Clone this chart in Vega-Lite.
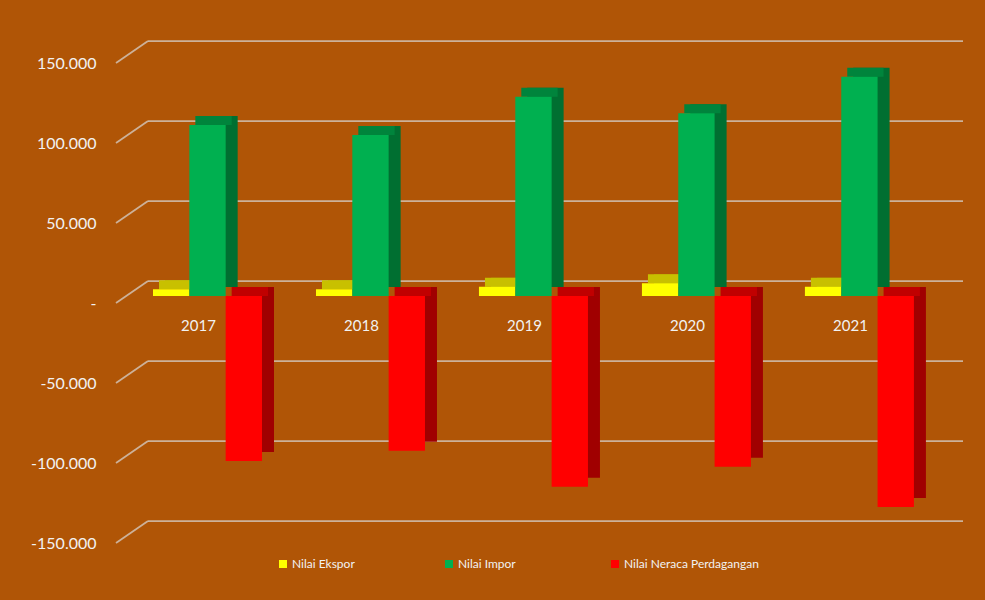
{
  "$schema": "https://vega.github.io/schema/vega-lite/v6.json",
  "autosize": "none",
  "width": 847,
  "height": 480,
  "padding": {"left": 116, "top": 56, "right": 22, "bottom": 64},
  "background": "#B05506",
  "config": {
    "view": {"stroke": null},
    "font": "Lato",
    "axisY": {"grid": false, "ticks": false, "domain": false, "labelFontSize": 16, "labelColor": "#F2F2F2", "labelPadding": 20, "labelFont": "Lato"}
  },
  "datasets": {
    "trade": [
      {"year": "2017", "series": "Nilai Ekspor", "value": 4200},
      {"year": "2018", "series": "Nilai Ekspor", "value": 4200},
      {"year": "2019", "series": "Nilai Ekspor", "value": 5800},
      {"year": "2020", "series": "Nilai Ekspor", "value": 7900},
      {"year": "2021", "series": "Nilai Ekspor", "value": 5800},
      {"year": "2017", "series": "Nilai Impor", "value": 106900},
      {"year": "2018", "series": "Nilai Impor", "value": 100700},
      {"year": "2019", "series": "Nilai Impor", "value": 124600},
      {"year": "2020", "series": "Nilai Impor", "value": 114200},
      {"year": "2021", "series": "Nilai Impor", "value": 137100},
      {"year": "2017", "series": "Nilai Neraca Perdagangan", "value": -103100},
      {"year": "2018", "series": "Nilai Neraca Perdagangan", "value": -96700},
      {"year": "2019", "series": "Nilai Neraca Perdagangan", "value": -119200},
      {"year": "2020", "series": "Nilai Neraca Perdagangan", "value": -106700},
      {"year": "2021", "series": "Nilai Neraca Perdagangan", "value": -131900}
    ],
    "grid": [
      {"v": -150000}, {"v": -100000}, {"v": -50000}, {"v": 0}, {"v": 50000}, {"v": 100000}, {"v": 150000}
    ]
  },
  "resolve": {"scale": {"x": "independent"}},
  "layer": [
    {
      "data": {"name": "grid"},
      "mark": {"type": "rule", "color": "#D9D9D9", "strokeWidth": 1.75, "opacity": 0.7, "xOffset": 32, "yOffset": -15},
      "encoding": {
        "x": {"datum": 0, "type": "quantitative", "scale": {"domain": [0, 1], "nice": false}, "axis": null},
        "x2": {"datum": 1},
        "y": {
          "field": "v", "type": "quantitative", "title": null,
          "scale": {"domain": [-150000, 150000], "nice": false},
          "axis": {
            "values": [-150000, -100000, -50000, 0, 50000, 100000, 150000],
            "labelOffset": 7,
            "labelExpr": "datum.value == 0 ? '-' : (datum.value < 0 ? '-' : '') + format(abs(datum.value) / 1000, 'd') + '.000'"
          }
        }
      }
    },
    {
      "data": {"name": "grid"},
      "mark": {"type": "rule", "color": "#D9D9D9", "strokeWidth": 1.75, "opacity": 0.7, "x2Offset": 32, "yOffset": 7, "y2Offset": -15},
      "encoding": {
        "x": {"datum": 0, "type": "quantitative", "scale": {"domain": [0, 1], "nice": false}, "axis": null},
        "x2": {"datum": 0},
        "y": {"field": "v", "type": "quantitative", "title": null},
        "y2": {"field": "v"}
      }
    },
    {
      "data": {"name": "trade"},
      "resolve": {"scale": {"color": "independent", "xOffset": "independent"}},
      "encoding": {
        "x": {"field": "year", "type": "nominal", "scale": {"paddingInner": 0.331, "paddingOuter": 0.264, "align": 0.43}, "axis": null}
      },
      "layer": [
        {
          "mark": {"type": "bar", "yOffset": -9, "y2Offset": -9},
          "encoding": {
            "xOffset": {"field": "series", "type": "nominal", "scale": {"domain": ["Nilai Ekspor", "Nilai Impor", "Nilai Neraca Perdagangan"], "range": [12, 121], "paddingInner": 0, "paddingOuter": 0}},
            "y": {"field": "value", "type": "quantitative", "title": null},
            "color": {"field": "series", "type": "nominal", "legend": null, "scale": {"domain": ["Nilai Ekspor", "Nilai Impor", "Nilai Neraca Perdagangan"], "range": ["#A8A000", "#006F31", "#A00000"]}}
          }
        },
        {
          "transform": [{"filter": "datum.series != 'Nilai Neraca Perdagangan'"}],
          "mark": {"type": "bar", "y2Offset": -9},
          "encoding": {
            "xOffset": {"field": "series", "type": "nominal", "scale": {"domain": ["Nilai Ekspor", "Nilai Impor", "Nilai Neraca Perdagangan"], "range": [6, 115], "paddingInner": 0, "paddingOuter": 0}},
            "y": {"field": "value", "type": "quantitative", "title": null},
            "y2": {"field": "value"},
            "color": {"field": "series", "type": "nominal", "legend": null, "scale": {"domain": ["Nilai Ekspor", "Nilai Impor", "Nilai Neraca Perdagangan"], "range": ["#C8C000", "#00843C", "#C00000"]}}
          }
        },
        {
          "transform": [{"filter": "datum.series == 'Nilai Neraca Perdagangan'"}],
          "mark": {"type": "bar", "y2Offset": -9},
          "encoding": {
            "xOffset": {"field": "series", "type": "nominal", "scale": {"domain": ["Nilai Ekspor", "Nilai Impor", "Nilai Neraca Perdagangan"], "range": [6, 115], "paddingInner": 0, "paddingOuter": 0}},
            "y": {"datum": 0, "type": "quantitative", "title": null},
            "y2": {"datum": 0},
            "color": {"field": "series", "type": "nominal", "legend": null, "scale": {"domain": ["Nilai Ekspor", "Nilai Impor", "Nilai Neraca Perdagangan"], "range": ["#C8C000", "#00843C", "#C00000"]}}
          }
        },
        {
          "mark": {"type": "bar"},
          "encoding": {
            "xOffset": {"field": "series", "type": "nominal", "scale": {"domain": ["Nilai Ekspor", "Nilai Impor", "Nilai Neraca Perdagangan"], "range": [0, 109], "paddingInner": 0, "paddingOuter": 0}},
            "y": {"field": "value", "type": "quantitative", "title": null},
            "color": {
              "field": "series", "type": "nominal",
              "scale": {"domain": ["Nilai Ekspor", "Nilai Impor", "Nilai Neraca Perdagangan"], "range": ["#FFFF00", "#00B050", "#FF0000"]},
              "legend": {
                "orient": "none", "legendX": 161, "legendY": 502, "direction": "horizontal", "columns": 3, "gridAlign": "all",
                "title": null, "symbolType": "square", "symbolSize": 64, "symbolStrokeWidth": 0,
                "labelColor": "#F2F2F2", "labelFontSize": 12, "labelFont": "Lato", "labelOffset": 3, "columnPadding": 16, "padding": 0, "labelLimit": 300
              }
            }
          }
        },
        {
          "transform": [{"filter": "datum.series == 'Nilai Ekspor'"}],
          "mark": {"type": "text", "dx": -9, "dy": 30, "fontSize": 15, "color": "#F2F2F2", "font": "Lato"},
          "encoding": {
            "y": {"datum": 0, "type": "quantitative"},
            "text": {"field": "year"}
          }
        }
      ]
    }
  ]
}
